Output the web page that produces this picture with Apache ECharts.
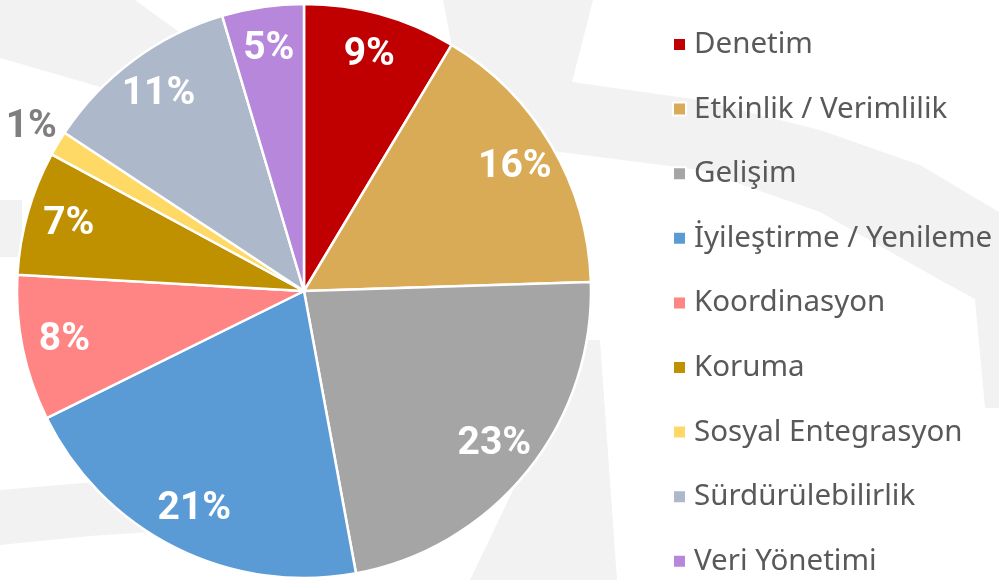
<!DOCTYPE html>
<html>
<head>
<meta charset="utf-8">
<script src="https://cdn.jsdelivr.net/npm/echarts@6/dist/echarts.min.js"></script>
<style>
  html, body { margin: 0; padding: 0; background: #fff; }
  #chart { width: 999px; height: 580px; }
</style>
</head>
<body>
<div id="chart"></div>
<script>
  // kategoriler ve paylar (%)
  var categories = ['Denetim', 'Etkinlik / Verimlilik', 'Gelişim', 'İyileştirme / Yenileme',
    'Koordinasyon', 'Koruma', 'Sosyal Entegrasyon', 'Sürdürülebilirlik', 'Veri Yönetimi'];
  var shares = [8.6, 15.9, 22.6, 20.6, 8.2, 7.0, 1.4, 11.1, 4.6];
  var colors = ['#C00000', '#D9AB56', '#A5A5A5', '#5B9BD5', '#FF8585', '#BF9000', '#FFD966', '#ADB9CA', '#B687DA'];
  var outsideLabel = 'Sosyal Entegrasyon'; // tek dış etiket

  var chart = echarts.init(document.getElementById('chart'));

  var pieData = categories.map(function (name, i) {
    return { name: name, value: shares[i], itemStyle: { color: colors[i] } };
  });

  var labelFont = {
    fontFamily: 'Roboto, sans-serif',
    fontWeight: 'bold',
    fontSize: 39
  };
  function pct(p) { return Math.round(p.percent) + '%'; }

  // arka plandaki soluk filigran
  var bg = '#f2f2f2';
  var graphics = [
    [[443, 0], [593, 0], [572, 82], [700, 100], [820, 130], [920, 165], [999, 212], [999, 312], [940, 280], [820, 212], [700, 170], [560, 152], [470, 140]],
    [[0, 0], [135, 0], [190, 40], [180, 110], [0, 58]],
    [[0, 200], [22, 200], [22, 257], [0, 257]],
    [[0, 490], [95, 482], [180, 476], [180, 530], [90, 536], [0, 545]],
    [[585, 340], [600, 340], [617, 580], [470, 580]],
    [[975, 300], [999, 300], [999, 408], [985, 408]]
  ].map(function (pts) {
    return { type: 'polygon', z: 0, silent: true, shape: { points: pts }, style: { fill: bg } };
  });

  var option = {
    backgroundColor: '#fff',
    animation: false,
    graphic: graphics,
    legend: {
      orient: 'vertical',
      left: 672,
      top: 29.5,
      height: 570,
      padding: 0,
      icon: 'rect',
      itemWidth: 13,
      itemHeight: 13,
      itemGap: 34.6,
      data: categories,
      textStyle: {
        fontFamily: '"Noto Sans", sans-serif',
        fontSize: 29.5,
        lineHeight: 30,
        color: '#595959',
        padding: [0, 0, 0, 3]
      }
    },
    series: [
      {
        type: 'pie',
        center: [304, 291],
        radius: [0, 287],
        startAngle: 90,
        clockwise: true,
        silent: true,
        itemStyle: { borderColor: '#fff', borderWidth: 2.5 },
        label: { show: false },
        labelLine: { show: false },
        data: pieData
      },
      {
        // iç yüzde etiketleri
        type: 'pie',
        center: [304, 291],
        radius: [196, 287],
        startAngle: 90,
        silent: true,
        itemStyle: { color: 'rgba(0,0,0,0)' },
        label: Object.assign({
          show: true, position: 'inside', color: '#fff', formatter: pct
        }, labelFont),
        labelLine: { show: false },
        data: categories.map(function (name, i) {
          return {
            name: name, value: shares[i],
            label: { show: name !== outsideLabel }
          };
        })
      },
      {
        // dış etiket (küçük dilim)
        type: 'pie',
        center: [304, 291],
        radius: [296, 334],
        startAngle: 90,
        silent: true,
        itemStyle: { color: 'rgba(0,0,0,0)' },
        label: Object.assign({
          show: true, position: 'inside', color: '#7F7F7F', formatter: pct
        }, labelFont),
        labelLine: { show: false },
        data: categories.map(function (name, i) {
          return {
            name: name, value: shares[i],
            label: { show: name === outsideLabel }
          };
        })
      }
    ]
  };

  chart.setOption(option);
</script>
</body>
</html>
